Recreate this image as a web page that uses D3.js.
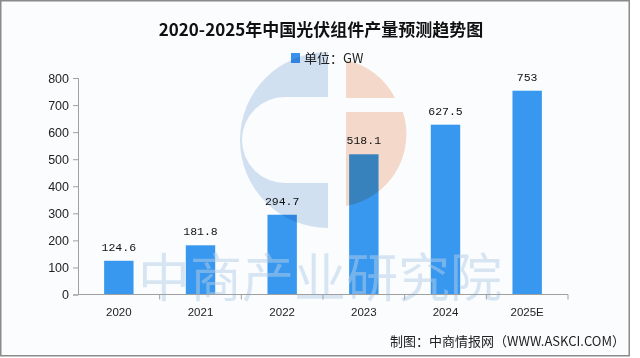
<!DOCTYPE html>
<html><head><meta charset="utf-8">
<script src="https://cdn.jsdelivr.net/npm/d3@7"></script>
<style>
html,body{margin:0;padding:0;background:#fff;}
svg{display:block;}
</style></head>
<body>
<svg id="c" width="640" height="358"></svg>
<script>
const categories = ["2020","2021","2022","2023","2024","2025E"];
const values = [124.6, 181.8, 294.7, 518.1, 627.5, 753];
const valueLabels = ["124.6","181.8","294.7","518.1","627.5","753"];
const yTicks = [0,100,200,300,400,500,600,700,800];
const title = "2020-2025年中国光伏组件产量预测趋势图";
const legendLabel = "单位：GW";
const footer = "制图：中商情报网（WWW.ASKCI.COM）";
const watermarkText = "中商产业研究院";

const svg = d3.select("#c");
// frame
svg.append("rect").attr("x",0.75).attr("y",0.75).attr("width",628.5).attr("height",355)
  .attr("fill","#fbfcfe").attr("stroke","#8a8a8a").attr("stroke-width",1.5);

const x = d3.scaleBand().domain(categories).range([78,568]).paddingInner(0.64).paddingOuter(0.32);
const y = d3.scaleLinear().domain([0,800]).range([294.5,78]);

// title
svg.append("text").attr("x",321).attr("y",36).attr("text-anchor","middle")
  .attr("font-family","'Noto Sans CJK SC', sans-serif").attr("font-weight","bold")
  .attr("font-size",17).attr("fill","#111").text(title);

// legend
svg.append("rect").attr("x",291).attr("y",53).attr("width",9).attr("height",10).attr("fill","#3a93ea");
svg.append("text").attr("x",304).attr("y",63).attr("font-family","'Noto Sans CJK SC', sans-serif")
  .attr("font-size",13).attr("fill","#222").text(legendLabel);

// bars
const g = svg.append("g");
g.selectAll("rect.bar").data(values).join("rect").attr("class","bar")
  .attr("x",(d,i)=>x(categories[i])).attr("width",x.bandwidth())
  .attr("y",d=>y(d)).attr("height",d=>y(0)-y(d)).attr("fill","#3897ee");

// watermark logo (on top, multiplied)
const wm = svg.append("g").style("mix-blend-mode","multiply");
const leftC = "M328,52 A88,88 0 0 0 328,228 L328,183 L285,183 A43,43 0 0 1 285,97 L328,97 Z";
wm.append("path").attr("d",leftC).attr("fill","#d4e3f1");
wm.append("path").attr("d","M346,60 A73,73 0 0 1 395,98 L346,98 Z").attr("fill","#f8dccb");
wm.append("path").attr("d","M346,112 L403,112 A73,73 0 0 1 346,206 Z").attr("fill","#f8dccb");
svg.append("text").attr("x",320).attr("y",297).attr("text-anchor","middle")
  .attr("font-family","'Noto Sans CJK SC', sans-serif").attr("font-size",52)
  .attr("fill","#b4d0ea").attr("opacity",0.5).text(watermarkText);

// value labels
svg.append("g").selectAll("text.val").data(values).join("text").attr("class","val")
  .attr("x",(d,i)=>x(categories[i])+x.bandwidth()/2).attr("y",d=>y(d)-10)
  .attr("text-anchor","middle").attr("font-family","'Liberation Mono', monospace")
  .attr("font-size",11.5).attr("fill","#111").text((d,i)=>valueLabels[i]);

// y axis
const ya = svg.append("g").attr("transform","translate(78,0)")
  .call(d3.axisLeft(y).tickValues(yTicks).tickSize(5).tickPadding(4));
ya.select(".domain").attr("stroke","#a0a0a0");
ya.selectAll(".tick line").attr("stroke","#a0a0a0");
ya.selectAll("text").attr("font-family","'Liberation Sans', Arial, sans-serif").attr("font-size",12.5).attr("fill","#222");

// x axis
const xa = svg.append("g").attr("transform",`translate(0,${y(0)})`)
  .call(d3.axisBottom(x).tickSize(0).tickPadding(13));
xa.select(".domain").attr("stroke","#a0a0a0").attr("d","M78,0H568");
xa.selectAll("text").attr("font-family","'Liberation Sans', Arial, sans-serif").attr("font-size",11.5).attr("fill","#222");
// boundary ticks
const step = x.step();
const bounds = categories.slice(1).map(c=>x(c)-(step-x.bandwidth())/2).concat([568]);
xa.selectAll("line.b").data(bounds).join("line").attr("class","b")
  .attr("x1",d=>d).attr("x2",d=>d).attr("y1",0).attr("y2",5).attr("stroke","#a0a0a0");

// footer
svg.append("text").attr("x",625).attr("y",346).attr("text-anchor","end")
  .attr("font-family","'Noto Sans CJK SC', sans-serif").attr("font-size",13)
  .attr("fill","#222").text(footer);
</script>
</body></html>
